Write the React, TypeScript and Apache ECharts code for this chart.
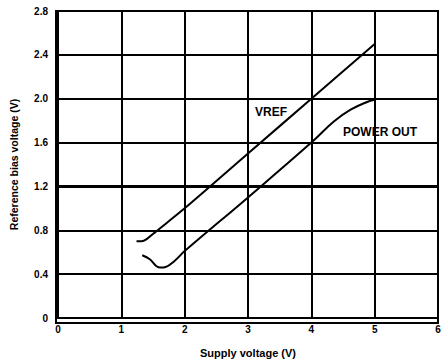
import React, { useEffect, useRef } from "react";
import * as echarts from "echarts";

const xTicks = [0, 1, 2, 3, 4, 5, 6];
const yTicks = [0, 0.4, 0.8, 1.2, 1.6, 2.0, 2.4, 2.8];

const vrefX = [1.24, 1.32, 1.4, 1.55, 2.0, 3.0, 4.0, 5.0];
const vrefY = [0.7, 0.7, 0.72, 0.79, 1.0, 1.5, 2.0, 2.5];

const powerX = [1.33, 1.45, 1.55, 1.62, 1.7, 1.84, 2.0, 3.0, 4.0, 4.35, 4.62, 4.88, 5.0];
const powerY = [0.572, 0.536, 0.475, 0.46, 0.465, 0.52, 0.61, 1.1, 1.6, 1.79, 1.9, 1.97, 1.99];

const seriesNames = ["VREF", "POWER OUT"];

const FONT = "'Liberation Sans', Arial, sans-serif";

export default function App() {
  const ref = useRef<HTMLDivElement>(null);
  useEffect(() => {
    document.body.style.margin = "0";
    const chart = echarts.init(ref.current!, null, { renderer: "svg" });
    const vref = vrefX.map((x, i) => [x, vrefY[i]]);
    const power = powerX.map((x, i) => [x, powerY[i]]);
    const lineStyleGrid = { color: "#000", width: 2 };
    chart.setOption({
      animation: false,
      backgroundColor: "#fff",
      grid: { left: 56, top: 11, width: 382, height: 312, show: false },
      xAxis: {
        type: "value",
        min: 0,
        max: 6,
        interval: 1,
        name: "Supply voltage (V)",
        nameLocation: "middle",
        nameGap: 29,
        nameTextStyle: { fontFamily: FONT, fontSize: 11, fontWeight: "bold", color: "#000" },
        axisLine: { show: true, onZero: false, lineStyle: { color: "#000", width: 2 } },
        axisTick: { show: false },
        axisLabel: {
          fontFamily: FONT,
          fontSize: 10,
          fontWeight: "bold",
          color: "#000",
          margin: 6,
          showMaxLabel: true,
          formatter: (v: number) => (xTicks.includes(v) ? String(v) : ""),
        },
        splitLine: { show: true, lineStyle: lineStyleGrid },
      },
      yAxis: {
        type: "value",
        min: 0,
        max: 2.8,
        interval: 0.4,
        name: "Reference bias voltage (V)",
        nameLocation: "middle",
        nameGap: 39,
        nameTextStyle: { fontFamily: FONT, fontSize: 10.5, fontWeight: "bold", color: "#000" },
        axisLine: { show: true, onZero: false, lineStyle: { color: "#000", width: 2 } },
        axisTick: { show: false },
        axisLabel: {
          fontFamily: FONT,
          fontSize: 10,
          fontWeight: "bold",
          color: "#000",
          margin: 10,
          formatter: (v: number) => {
            const t = yTicks.find((y) => Math.abs(y - v) < 1e-6);
            if (t === undefined) return "";
            return t === 0 ? "0" : t.toFixed(1);
          },
        },
        splitLine: { show: true, lineStyle: lineStyleGrid },
      },
      series: [
        {
          name: seriesNames[0],
          type: "line",
          data: vref,
          smooth: 0.3,
          showSymbol: false,
          lineStyle: { color: "#000", width: 2 },
          markLine: {
            silent: true,
            symbol: "none",
            label: { show: false },
            lineStyle: { color: "#000", width: 3, type: "solid" },
            data: [{ yAxis: 1.2 }],
          },
        },
        {
          name: seriesNames[1],
          type: "line",
          data: power,
          smooth: 0.4,
          showSymbol: false,
          lineStyle: { color: "#000", width: 2 },
        },
      ],
      graphic: [
        {
          type: "text",
          left: 255,
          top: 106,
          style: { text: seriesNames[0], font: `bold 12px ${FONT}`, fill: "#000" },
        },
        {
          type: "text",
          left: 343,
          top: 126,
          style: { text: seriesNames[1], font: `bold 12px ${FONT}`, fill: "#000" },
        },
        {
          type: "rect",
          shape: { x: 56, y: 11, width: 382, height: 312 },
          style: { fill: "none", stroke: "#000", lineWidth: 2 },
          z: 10,
        },
      ],
    });
    return () => chart.dispose();
  }, []);
  return <div ref={ref} style={{ width: 444, height: 363 }} />;
}
